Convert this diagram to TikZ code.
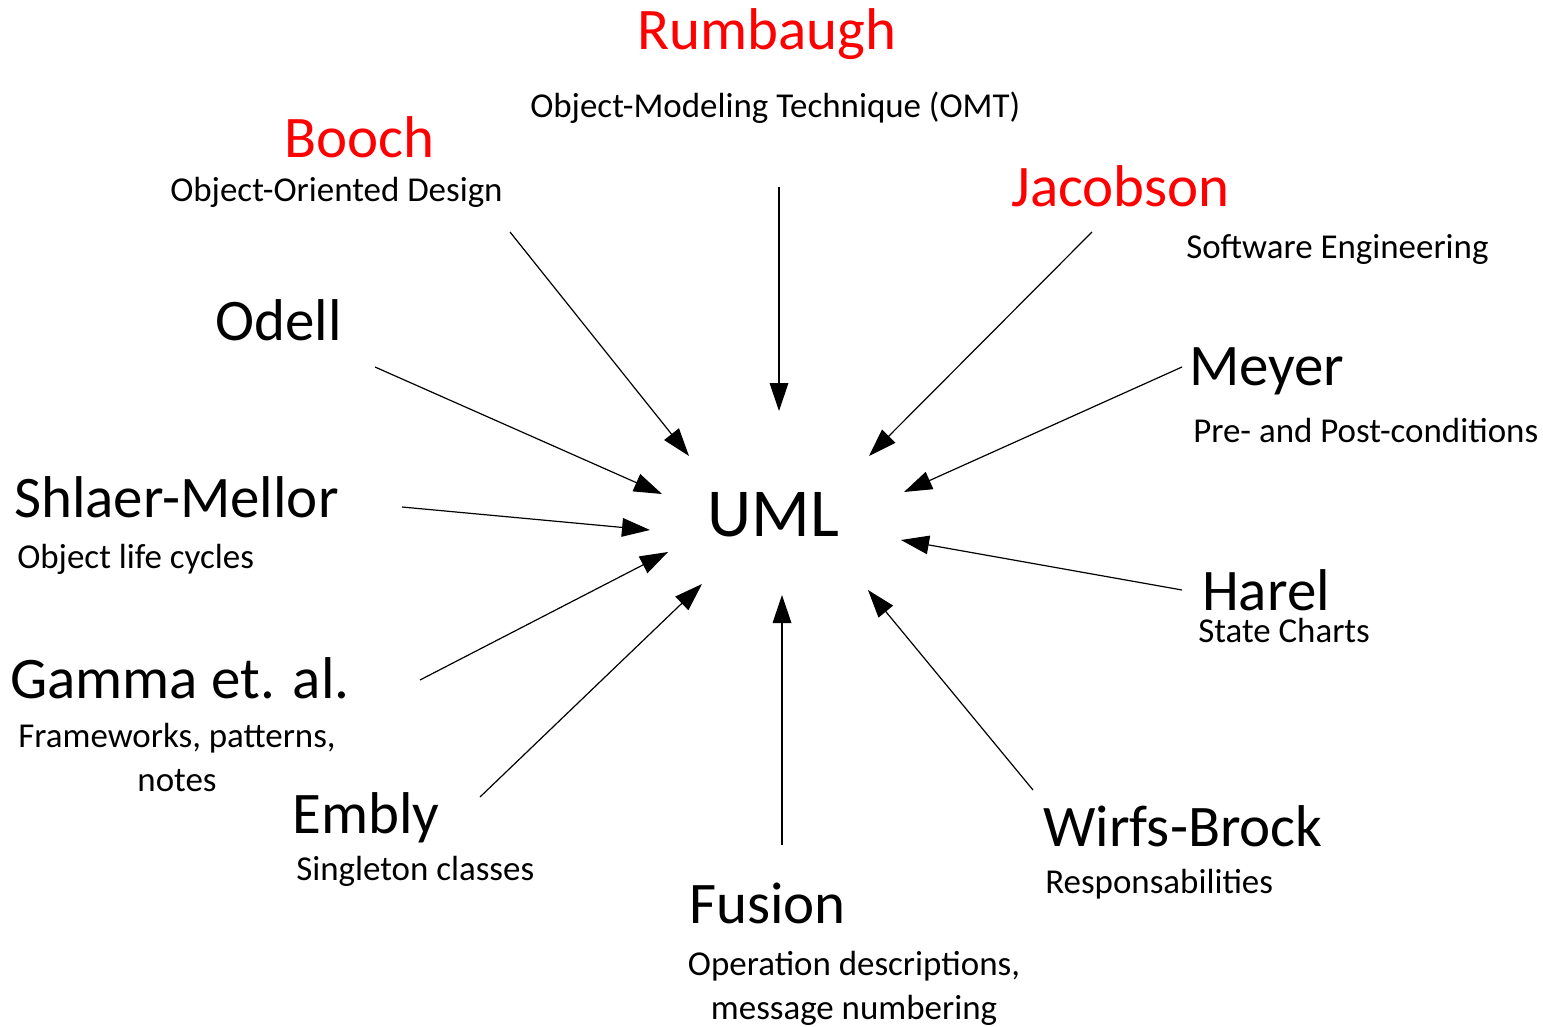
\documentclass[tikz,border=0pt]{standalone}
\usepackage{fontspec}
\setmainfont{Carlito}
\usetikzlibrary{arrows.meta}
\definecolor{umlred}{HTML}{FF0000}
\definecolor{umlink}{HTML}{000000}
\tikzset{
  who/.style={inner sep=0pt,anchor=base west,text=umlink,font=\fontsize{44.2pt}{53pt}\selectfont},
  founder/.style={who,text=umlred},
  what/.style={inner sep=0pt,anchor=base west,text=umlink,font=\fontsize{26.2pt}{32.3pt}\selectfont},
  hub/.style={inner sep=0pt,anchor=base west,text=umlink,font=\fontsize{51.5pt}{62pt}\selectfont},
  feed/.style={-{Triangle[length=21pt,width=14pt]},draw=umlink,line width=.9pt},
}

\begin{document}
\begin{tikzpicture}[x=.75pt,y=-.75pt]
  \useasboundingbox (0,0) rectangle (1543,1027);

  % ---------------- the unified language ----------------
  \node[hub] (uml) at (707,536) {UML};

  % ---------------- the three amigos ----------------
  \node[founder] (rumbaugh) at (637,50) {Rumbaugh};
  \node[what] (omt) at (530,118) {Object-Modeling Technique (OMT)};
  \node[founder] (booch) at (284,158) {Booch};
  \node[what] (ood) at (170,202) {Object-Oriented Design};
  \node[founder] (jacobson) at (1011,207) {Jacobson};
  \node[what] (swe) at (1186,258) {Software Engineering};

  % ---------------- other contributors ----------------
  \node[who] (odell) at (215,340) {Odell};
  \node[who] (meyer) at (1189,385) {Meyer};
  \node[what] (prepost) at (1193,442) {Pre- and Post-conditions};
  \node[who] (shlaer) at (14,517) {Shlaer-Mellor};
  \node[what] (lifecycles) at (17,568) {Object life cycles};
  \node[who] (harel) at (1202,610) {Harel};
  \node[what] (statecharts) at (1198,642) {State Charts};
  \node[who] (gamma) at (10,698) {Gamma et. al.};
  \node[what,anchor=base,align=center] (patterns) at (177,791) {Frameworks, patterns,\\notes};
  \node[who] (embly) at (292,833) {Embly};
  \node[what] (singleton) at (296,880) {Singleton classes};
  \node[who] (wirfs) at (1043,846) {Wirfs-Brock};
  \node[what] (resp) at (1045,893) {Responsabilities};
  \node[who] (fusion) at (689,923) {Fusion};
  \node[what,anchor=base,align=center] (opdesc) at (854,1019) {Operation descriptions,\\message numbering};

  % arrow ends
  \coordinate (rumbaugh-from) at (779,187);  \coordinate (rumbaugh-to) at (779,411);
  \coordinate (booch-from) at (510,232);     \coordinate (booch-to) at (689,456);
  \coordinate (jacobson-from) at (1092,232); \coordinate (jacobson-to) at (869,456);
  \coordinate (odell-from) at (375,367);     \coordinate (odell-to) at (662,494);
  \coordinate (meyer-from) at (1182,367);    \coordinate (meyer-to) at (904,492);
  \coordinate (shlaer-from) at (402,507);    \coordinate (shlaer-to) at (650,530);
  \coordinate (harel-from) at (1182,590);    \coordinate (harel-to) at (901,540);
  \coordinate (gamma-from) at (420,680);     \coordinate (gamma-to) at (668,552);
  \coordinate (embly-from) at (480,797);     \coordinate (embly-to) at (702,584);
  \coordinate (fusion-from) at (782,845);    \coordinate (fusion-to) at (782,595);
  \coordinate (wirfs-from) at (1033,790);    \coordinate (wirfs-to) at (868,590);

  \foreach \n in {rumbaugh,booch,jacobson,odell,meyer,shlaer,harel,gamma,embly,fusion,wirfs}
    \draw[feed] (\n-from) -- (\n-to);
\end{tikzpicture}
\end{document}
